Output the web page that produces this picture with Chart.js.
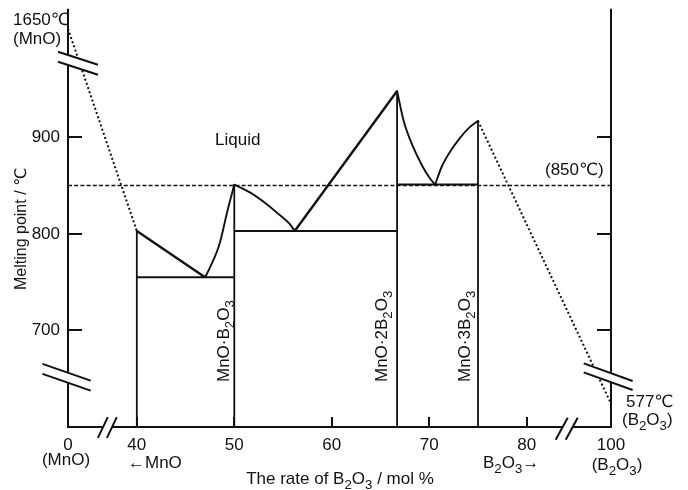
<!DOCTYPE html>
<html>
<head>
<meta charset="utf-8">
<script src="https://cdn.jsdelivr.net/npm/chart.js@4.4.0/dist/chart.umd.min.js"></script>
<style>
  html, body { margin: 0; padding: 0; background: #fff; }
  #wrap { width: 688px; height: 490px; position: relative; }
</style>
</head>
<body>
<div id="wrap"><canvas id="chart" width="688" height="490"></canvas></div>
<script>
// MnO–B2O3 binary phase diagram: composition in mol % B2O3, temperature in ℃

const xTicks = [0, 40, 50, 60, 70, 80, 100];
const yTicks = [700, 800, 900];

// congruently melting compounds
const compoundNames = ['MnO·B_2O_3', 'MnO·2B_2O_3', 'MnO·3B_2O_3'];
const compoundX = [50, 66.7, 75];
const compoundMelt = [851, 948, 917];

// eutectic points (solidus lines)
const eutecticX = [47.0, 56.2, 70.6];
const eutecticT = [755, 803, 851];

// left edge of the measured region
const edgeX = 40;
const edgeT = 803;

// pure end members
const mnoMelt = 1650;
const b2o3Melt = 577;
const refLineT = 850;

// liquidus branches
const liqMnO_x = [0, 40],                               liqMnO_t = [mnoMelt, 803];
const liq1_x = [40, 47.0],                              liq1_t = [803, 755];
const liq2_x = [47.0, 47.5, 48.5, 49.3, 50.0],          liq2_t = [755, 765, 790, 824, 851];
const liq3_x = [50.0, 51.6, 53.3, 54.6, 55.7, 56.2],    liq3_t = [851, 843, 831, 820, 810, 803];
const liq4_x = [56.2, 66.7],                            liq4_t = [803, 948];
const liq5_x = [66.7, 67.4, 68.3, 69.3, 70.1, 70.6],    liq5_t = [948, 916, 891, 870, 857, 851];
const liq6_x = [70.6, 71.3, 72.2, 73.2, 74.1, 75.0],    liq6_t = [851, 870, 886, 900, 910, 917];
const liqB2O3_x = [75, 100],                            liqB2O3_t = [917, b2o3Melt];

// ---- broken axes: values beyond a break are squeezed into the strip past it ----
const X_BREAK_LO = 37, X_SQUEEZE_LO = 0.1097;
const X_BREAK_HI = 84.2, X_SQUEEZE_HI = 0.2813;
const T_BREAK_HI = 980, T_SQUEEZE_HI = 0.04836;
const T_BREAK_LO = 651, T_SQUEEZE_LO = 0.3616;
const T_AXIS_MIN = 600, T_AXIS_MAX = 1033;

function xPos(c) {
  if (c < X_BREAK_LO) return X_BREAK_LO - (X_BREAK_LO - c) * X_SQUEEZE_LO;
  if (c > X_BREAK_HI) return X_BREAK_HI + (c - X_BREAK_HI) * X_SQUEEZE_HI;
  return c;
}
function tPos(t) {
  if (t > T_BREAK_HI) return T_BREAK_HI + (t - T_BREAK_HI) * T_SQUEEZE_HI;
  if (t < T_AXIS_MIN) return T_BREAK_LO - (T_BREAK_LO - t) * T_SQUEEZE_LO;
  return t;
}

const INK = '#111';
const FONT = '"Liberation Sans", Arial, "DejaVu Sans", sans-serif';

function pts(xs, ts) { return xs.map((c, i) => ({ x: xPos(c), y: tPos(ts[i]) })); }

function line(data, opts = {}) {
  return Object.assign({
    data, showLine: true, fill: false, pointRadius: 0, pointHoverRadius: 0,
    borderColor: INK, borderWidth: 2.2, tension: 0,
    cubicInterpolationMode: 'default', borderDash: [], borderCapStyle: 'butt', borderJoinStyle: 'round'
  }, opts);
}

const datasets = [];
// 850 ℃ reference line
datasets.push(line(pts([0, 100], [refLineT, refLineT]), { borderWidth: 1.5, borderDash: [4, 2.2] }));
// liquidus of the end members (extrapolated, dotted)
datasets.push(line(pts(liqMnO_x, liqMnO_t), { borderWidth: 2, borderDash: [2, 2.4] }));
datasets.push(line(pts(liqB2O3_x, liqB2O3_t), { borderWidth: 2, borderDash: [2, 2.4] }));
// measured liquidus
datasets.push(line(pts(liq1_x, liq1_t), { borderWidth: 2.4 }));
datasets.push(line(pts(liq2_x, liq2_t), { cubicInterpolationMode: 'monotone', borderWidth: 1.9 }));
datasets.push(line(pts(liq3_x, liq3_t), { cubicInterpolationMode: 'monotone', borderWidth: 1.9 }));
datasets.push(line(pts(liq4_x, liq4_t), { borderWidth: 2.4 }));
datasets.push(line(pts(liq5_x, liq5_t), { cubicInterpolationMode: 'monotone', borderWidth: 1.9 }));
datasets.push(line(pts(liq6_x, liq6_t), { cubicInterpolationMode: 'monotone', borderWidth: 1.9 }));
// solidus (eutectic) lines between neighbouring phases
const bounds = [edgeX, ...compoundX];
eutecticT.forEach((t, i) => {
  datasets.push(line(pts([bounds[i], bounds[i + 1]], [t, t]), { borderWidth: 2 }));
});
// vertical phase boundaries down to the axis
[[edgeX, edgeT], ...compoundX.map((c, i) => [c, compoundMelt[i]])].forEach(([c, t]) => {
  datasets.push(line([{ x: xPos(c), y: tPos(t) }, { x: xPos(c), y: T_AXIS_MIN }], { borderWidth: 1.8 }));
});

// ---- text with subscripts: "_x" makes x a subscript ----
function richParts(text) {
  const parts = [];
  for (let i = 0; i < text.length; i++) {
    if (text[i] === '_') { parts.push({ s: text[i + 1], sub: true }); i++; }
    else parts.push({ s: text[i], sub: false });
  }
  return parts;
}
function richWidth(ctx, text, size) {
  let w = 0;
  richParts(text).forEach(p => {
    ctx.font = (p.sub ? size * 0.78 : size) + 'px ' + FONT;
    w += ctx.measureText(p.s).width;
  });
  return w;
}
function drawRich(ctx, text, x, y, size, align = 'left') {
  let cx = x;
  if (align === 'center') cx -= richWidth(ctx, text, size) / 2;
  if (align === 'right') cx -= richWidth(ctx, text, size);
  ctx.textBaseline = 'alphabetic';
  ctx.textAlign = 'left';
  richParts(text).forEach(p => {
    const fs = p.sub ? size * 0.78 : size;
    ctx.font = fs + 'px ' + FONT;
    ctx.fillText(p.s, cx, p.sub ? y + size * 0.3 : y);
    cx += ctx.measureText(p.s).width;
  });
}

function seg(ctx, x1, y1, x2, y2) { ctx.beginPath(); ctx.moveTo(x1, y1); ctx.lineTo(x2, y2); ctx.stroke(); }

// two parallel slashes crossing an axis, with the axis blanked between them
function breakMark(ctx, p1, p2, dir, a, b) {
  const n = Math.hypot(dir[0], dir[1]);
  const ux = dir[0] / n, uy = dir[1] / n;
  const e = (p, t) => [p[0] + ux * t, p[1] + uy * t];
  const a1 = e(p1, -a), b1 = e(p1, b), a2 = e(p2, -a), b2 = e(p2, b);
  ctx.save();
  ctx.fillStyle = '#fff';
  ctx.beginPath();
  ctx.moveTo(a1[0], a1[1]); ctx.lineTo(b1[0], b1[1]); ctx.lineTo(b2[0], b2[1]); ctx.lineTo(a2[0], a2[1]);
  ctx.closePath(); ctx.fill();
  ctx.strokeStyle = INK; ctx.lineWidth = 2;
  seg(ctx, a1[0], a1[1], b1[0], b1[1]);
  seg(ctx, a2[0], a2[1], b2[0], b2[1]);
  ctx.restore();
}

const decor = {
  id: 'decor',
  afterDraw(chart) {
    const ctx = chart.ctx;
    const { left, right, top, bottom } = chart.chartArea;
    const xs = chart.scales.x, ys = chart.scales.y;
    ctx.save();
    ctx.strokeStyle = INK;
    ctx.fillStyle = INK;
    ctx.lineWidth = 2;
    ctx.lineCap = 'butt';

    // axis frame
    seg(ctx, left, top, left, bottom + 1);
    seg(ctx, right, top, right, bottom + 1);
    seg(ctx, left - 1, bottom, right + 1, bottom);

    // inward tick marks
    xTicks.filter(v => v >= 40 && v <= 80).forEach(v => {
      const p = Math.round(xs.getPixelForValue(xPos(v)));
      seg(ctx, p, bottom, p, bottom - 10);
    });
    yTicks.forEach(v => {
      const p = Math.round(ys.getPixelForValue(tPos(v)));
      seg(ctx, left, p, left + 14, p);
      seg(ctx, right, p, right - 14, p);
    });

    // axis breaks
    const yHi = ys.getPixelForValue(T_BREAK_HI);
    const yLo = ys.getPixelForValue(T_BREAK_LO);
    breakMark(ctx, [left, yHi - 5], [left, yHi + 5], [40, 13], 10.5, 31.5);
    breakMark(ctx, [left, yLo - 5], [left, yLo + 5], [49, 17], 27, 24);
    breakMark(ctx, [right, yLo - 4.5], [right, yLo + 4.5], [50, 18], 29, 23);
    const xLo = xs.getPixelForValue(X_BREAK_LO);
    const xHi = xs.getPixelForValue(X_BREAK_HI);
    breakMark(ctx, [xLo - 4.5, bottom], [xLo + 4.5, bottom], [10, -21], 12, 11);
    breakMark(ctx, [xHi - 5, bottom], [xHi + 5, bottom], [12, -22], 14.5, 10.5);

    // labels inside and around the plot
    ctx.fillStyle = INK;
    drawRich(ctx, 'Liquid', 215, 145, 17);
    drawRich(ctx, mnoMelt + '℃', 13, 25, 17);
    drawRich(ctx, '(MnO)', 13, 44, 17);
    drawRich(ctx, '(' + refLineT + '℃)', 545, 175, 17);
    drawRich(ctx, b2o3Melt + '℃', 626, 407, 17);
    drawRich(ctx, '(B_2O_3)', 622, 425, 17);

    // secondary x labels
    drawRich(ctx, '(MnO)', 66, 465, 17, 'center');
    drawRich(ctx, '←MnO', 128, 468, 17);
    drawRich(ctx, 'B_2O_3→', 483, 468, 17);
    drawRich(ctx, '(B_2O_3)', 617, 470, 17, 'center');

    // axis titles
    drawRich(ctx, 'The rate of B_2O_3 / mol %', 340, 484, 17, 'center');
    ctx.save();
    ctx.translate(26, 229);
    ctx.rotate(-Math.PI / 2);
    drawRich(ctx, 'Melting point / ℃', 0, 0, 16, 'center');
    ctx.restore();

    // compound names along their vertical lines
    const nameGap = [5, 10, 8];
    compoundX.forEach((c, i) => {
      const px = xs.getPixelForValue(xPos(c));
      ctx.save();
      ctx.translate(px - nameGap[i], 382);
      ctx.rotate(-Math.PI / 2);
      drawRich(ctx, compoundNames[i], 0, 0, 17);
      ctx.restore();
    });
    ctx.restore();
  }
};

new Chart(document.getElementById('chart').getContext('2d'), {
  type: 'scatter',
  data: { datasets },
  options: {
    responsive: false,
    animation: false,
    devicePixelRatio: 1,
    layout: { padding: { top: 7, right: 77, left: 0, bottom: 0 } },
    plugins: { legend: { display: false }, tooltip: { enabled: false } },
    scales: {
      x: {
        type: 'linear',
        min: xPos(0),
        max: xPos(100),
        grid: { display: false, drawTicks: false },
        border: { display: false },
        afterBuildTicks: s => { s.ticks = xTicks.map(v => ({ value: xPos(v) })); },
        afterFit: s => { s.height = 63; },
        ticks: {
          autoSkip: false, maxRotation: 0, padding: 8, color: INK,
          font: { family: FONT, size: 17 },
          callback: (v, i) => String(xTicks[i])
        }
      },
      y: {
        type: 'linear',
        min: T_AXIS_MIN,
        max: T_AXIS_MAX,
        grid: { display: false, drawTicks: false },
        border: { display: false },
        afterBuildTicks: s => { s.ticks = yTicks.map(v => ({ value: tPos(v) })); },
        afterFit: s => { s.width = 68; },
        ticks: {
          padding: 8, color: INK,
          font: { family: FONT, size: 17, lineHeight: 0.1 },
          callback: (v, i) => String(yTicks[i])
        }
      }
    }
  },
  plugins: [decor]
});
</script>
</body>
</html>
